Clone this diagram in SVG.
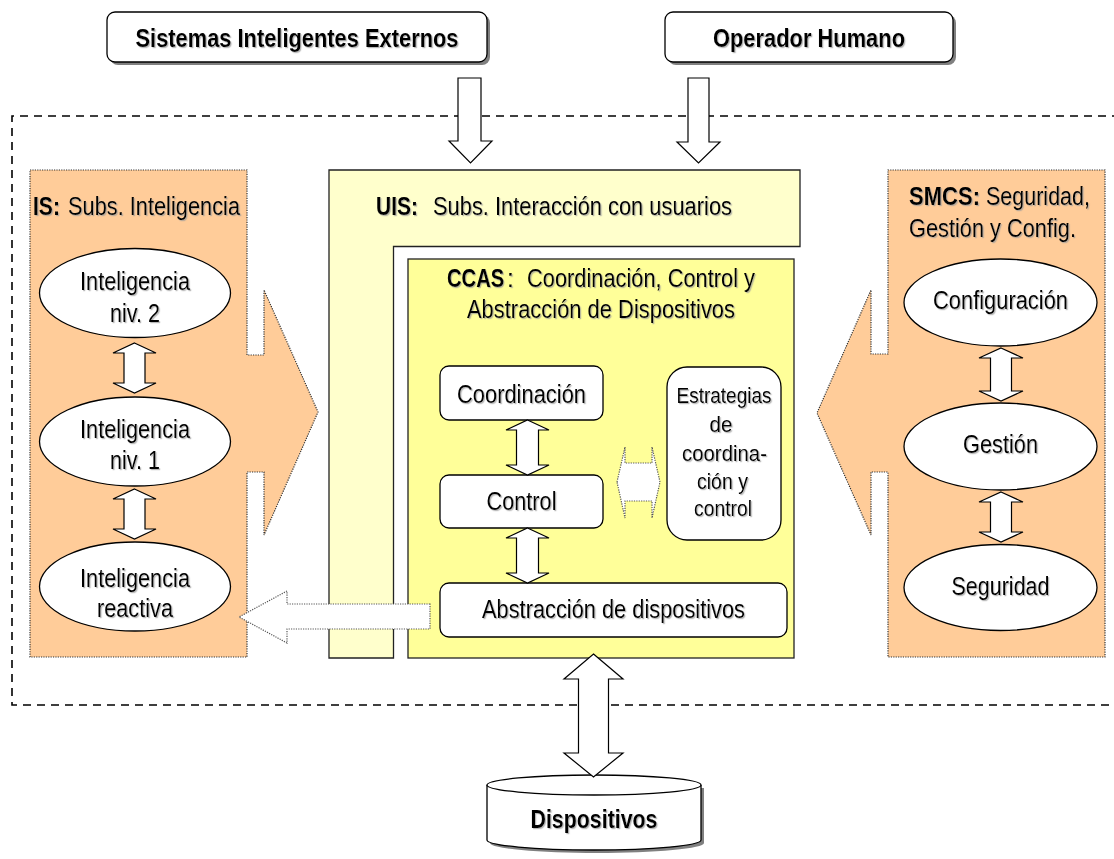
<svg xmlns="http://www.w3.org/2000/svg" width="1114" height="859" viewBox="0 0 1114 859">
  <defs>
    <filter id="txtShadow" x="-5%" y="-20%" width="115%" height="150%">
      <feDropShadow dx="1.2" dy="1.2" stdDeviation="0.4" flood-color="#9a9a9a" flood-opacity="0.7"/>
    </filter>
  </defs>
  <style>
    text { font-family: "Liberation Sans Narrow", "Arial Narrow", "Liberation Sans", sans-serif; fill: #000; filter: url(#txtShadow); }
    .c { text-anchor: middle; }
    .b { font-weight: bold; }
    .f25 { font-size: 25px; }
    .f22 { font-size: 22px; }
    .box { fill: #fff; stroke: #000; stroke-width: 1.3; }
    .shadow { fill: #808080; stroke: none; }
    .panel { fill: #FFCC99; stroke: #333; stroke-width: 1.2; stroke-dasharray: 1.2 1.2; }
    .uis { fill: #FFFFCC; stroke: #222; stroke-width: 1.3; }
    .ccas { fill: #FFFF99; stroke: #222; stroke-width: 1.3; }
    .arrow { fill: #fff; stroke: #000; stroke-width: 1.2; stroke-linejoin: miter; }
    .darrow { fill: #fff; stroke: #555; stroke-width: 1.2; stroke-dasharray: 1.2 1.2; }
    .frame { fill: none; stroke: #000; stroke-width: 1.6; stroke-dasharray: 8 6; }
  </style>

  <!-- system boundary (open on the right) -->
  <path class="frame" d="M1120,116 H12 V705 H1120"/>

  <!-- external actors -->
  <g id="sistemas-externos">
    <rect class="shadow" x="110" y="15" width="380" height="50" rx="8"/>
    <rect class="box" x="107" y="12" width="380" height="50" rx="8"/>
    <text class="c b f25" x="297" y="47" textLength="323" lengthAdjust="spacingAndGlyphs">Sistemas Inteligentes Externos</text>
  </g>
  <g id="operador-humano">
    <rect class="shadow" x="668" y="15" width="288" height="50" rx="8"/>
    <rect class="box" x="665" y="12" width="288" height="50" rx="8"/>
    <text class="c b f25" x="809" y="47" textLength="192" lengthAdjust="spacingAndGlyphs">Operador Humano</text>
  </g>

  <!-- IS panel with arrow towards the core -->
  <g id="is">
    <path class="panel" d="M30,170 H247 V355 H264 V290 L318,412 L264,535 V472 H247 V657 H30 Z"/>
    <text class="b f25" x="33" y="215" textLength="27" lengthAdjust="spacingAndGlyphs">IS:</text>
    <text class="f25" x="68" y="215" textLength="172" lengthAdjust="spacingAndGlyphs">Subs. Inteligencia</text>
  </g>
  <g id="is-niv2">
    <ellipse class="box" cx="135" cy="293" rx="95.5" ry="44.5"/>
    <text class="c f25" x="135" y="290" textLength="110" lengthAdjust="spacingAndGlyphs">Inteligencia</text>
    <text class="c f25" x="135" y="322" textLength="50" lengthAdjust="spacingAndGlyphs">niv. 2</text>
  </g>
  <g id="is-niv1">
    <ellipse class="box" cx="135" cy="441.5" rx="95.5" ry="44.5"/>
    <text class="c f25" x="135" y="438" textLength="110" lengthAdjust="spacingAndGlyphs">Inteligencia</text>
    <text class="c f25" x="135" y="469" textLength="50" lengthAdjust="spacingAndGlyphs">niv. 1</text>
  </g>
  <g id="is-reactiva">
    <ellipse class="box" cx="135" cy="586.5" rx="95.5" ry="44.5"/>
    <text class="c f25" x="135" y="587" textLength="110" lengthAdjust="spacingAndGlyphs">Inteligencia</text>
    <text class="c f25" x="135" y="617" textLength="76" lengthAdjust="spacingAndGlyphs">reactiva</text>
  </g>

  <!-- SMCS panel with arrow towards the core -->
  <g id="smcs">
    <path class="panel" d="M1105,170 H888 V354 H871 V290 L817,413 L871,535 V472 H888 V657 H1105 Z"/>
    <text class="b f25" x="909" y="205" textLength="71" lengthAdjust="spacingAndGlyphs">SMCS:</text>
    <text class="f25" x="986" y="205" textLength="104" lengthAdjust="spacingAndGlyphs">Seguridad,</text>
    <text class="f25" x="909" y="237" textLength="167" lengthAdjust="spacingAndGlyphs">Gestión y Config.</text>
  </g>
  <g id="smcs-configuracion">
    <ellipse class="box" cx="1000.5" cy="302.5" rx="96.5" ry="43.5"/>
    <text class="c f25" x="1000.5" y="309" textLength="135" lengthAdjust="spacingAndGlyphs">Configuración</text>
  </g>
  <g id="smcs-gestion">
    <ellipse class="box" cx="1000.5" cy="446.5" rx="96.5" ry="43.5"/>
    <text class="c f25" x="1000.5" y="453" textLength="75" lengthAdjust="spacingAndGlyphs">Gestión</text>
  </g>
  <g id="smcs-seguridad">
    <ellipse class="box" cx="1000.5" cy="587.5" rx="96.5" ry="43"/>
    <text class="c f25" x="1000.5" y="595" textLength="98" lengthAdjust="spacingAndGlyphs">Seguridad</text>
  </g>

  <!-- UIS: L-shaped layer wrapping the core -->
  <g id="uis">
    <path class="uis" d="M329,170 H800 V246.5 H393.5 V658 H329 Z"/>
    <text class="b f25" x="376" y="215" textLength="42" lengthAdjust="spacingAndGlyphs">UIS:</text>
    <text class="f25" x="433" y="215" textLength="299" lengthAdjust="spacingAndGlyphs">Subs. Interacción con usuarios</text>
  </g>

  <!-- CCAS core -->
  <g id="ccas">
    <rect class="ccas" x="408" y="259" width="386" height="399"/>
    <text class="b f25" transform="translate(447,287) scale(0.81,1)" x="0" y="0">CCAS</text>
    <text class="f25" x="507" y="287">:</text>
    <text class="f25" x="527" y="287" textLength="228" lengthAdjust="spacingAndGlyphs">Coordinación, Control y</text>
    <text class="c f25" x="601" y="318" textLength="268" lengthAdjust="spacingAndGlyphs">Abstracción de Dispositivos</text>
  </g>
  <g id="ccas-coordinacion">
    <rect class="box" x="440" y="366" width="163" height="54" rx="9"/>
    <text class="c f25" x="521.5" y="403" textLength="129" lengthAdjust="spacingAndGlyphs">Coordinación</text>
  </g>
  <g id="ccas-control">
    <rect class="box" x="440" y="475" width="163" height="53" rx="9"/>
    <text class="c f25" x="521.5" y="510" textLength="70" lengthAdjust="spacingAndGlyphs">Control</text>
  </g>
  <g id="ccas-abstraccion">
    <rect class="box" x="440" y="583" width="347" height="54" rx="9"/>
    <text class="c f25" x="613.5" y="618" textLength="263" lengthAdjust="spacingAndGlyphs">Abstracción de dispositivos</text>
  </g>
  <g id="ccas-estrategias">
    <rect class="box" x="667" y="367" width="114" height="173" rx="20"/>
    <text class="c f22" x="724" y="403" textLength="95" lengthAdjust="spacingAndGlyphs">Estrategias</text>
    <text class="c f22" x="721" y="432" textLength="23" lengthAdjust="spacingAndGlyphs">de</text>
    <text class="c f22" x="724.5" y="461" textLength="85" lengthAdjust="spacingAndGlyphs">coordina-</text>
    <text class="c f22" x="722.5" y="489" textLength="51" lengthAdjust="spacingAndGlyphs">ción y</text>
    <text class="c f22" x="723" y="516" textLength="58" lengthAdjust="spacingAndGlyphs">control</text>
  </g>

  <!-- cylinder: device store -->
  <g id="dispositivos">
    <path class="shadow" d="M490,788 V843 A107,10 0 0 0 704,843 V788 Z"/>
    <path class="box" d="M487,785 V840 A107,10 0 0 0 701,840 V785"/>
    <ellipse class="box" cx="594" cy="785" rx="107" ry="10"/>
    <text class="c b f25" x="594" y="828" textLength="127" lengthAdjust="spacingAndGlyphs">Dispositivos</text>
  </g>

  <!-- connectors: block arrows -->
  <g id="connectors">
    <!-- inputs from the external actors -->
    <polygon class="arrow" points="458,78 481,78 481,141 492,141 470.5,163 449,141 458,141"/>
    <polygon class="arrow" points="688,78 709,78 709,142 720,142 698.5,163 677,142 688,142"/>
    <!-- IS internal links -->
    <polygon class="arrow" points="134.5,343 156,353 145,353 145,383 156,383 134.5,393 113,383 124,383 124,353 113,353"/>
    <polygon class="arrow" points="134.5,489 156,499 145,499 145,529 156,529 134.5,539 113,529 124,529 124,499 113,499"/>
    <!-- SMCS internal links -->
    <polygon class="arrow" points="1001,348 1023,358 1011.5,358 1011.5,391 1023,391 1001,401 979,391 990.5,391 990.5,358 979,358"/>
    <polygon class="arrow" points="1001,492 1023,502 1011.5,502 1011.5,532 1023,532 1001,542 979,532 990.5,532 990.5,502 979,502"/>
    <!-- CCAS internal links -->
    <polygon class="arrow" points="527.5,420 549,430 538.5,430 538.5,465 549,465 527.5,475 506,465 516.5,465 516.5,430 506,430"/>
    <polygon class="arrow" points="527.5,528 549,538 538.5,538 538.5,573 549,573 527.5,583 506,573 516.5,573 516.5,538 506,538"/>
    <!-- core to devices -->
    <polygon class="arrow" points="593.5,654 623,679 608.5,679 608.5,753 623,753 593.5,777 564,753 578.5,753 578.5,679 564,679"/>
    <!-- strategies link (dotted) -->
    <polygon class="darrow" points="617,482 625,447 625,463 652,463 652,447 660,482 652,518 652,501 625,501 625,518"/>
    <!-- reactive feedback to IS (dotted) -->
    <polygon class="darrow" points="430,604 287,604 287,591 239,617 287,643 287,629 430,629"/>
  </g>
</svg>
